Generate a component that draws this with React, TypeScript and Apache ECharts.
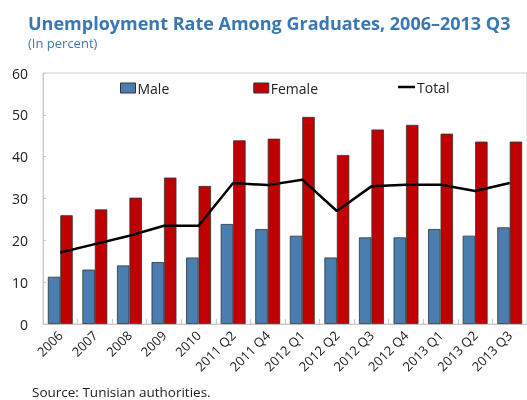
import React, { useEffect, useRef } from "react";
import * as echarts from "echarts";

const categories = ["2006", "2007", "2008", "2009", "2010", "2011 Q2", "2011 Q4", "2012 Q1", "2012 Q2", "2012 Q3", "2012 Q4", "2013 Q1", "2013 Q2", "2013 Q3"];
const male = [11.3, 13.0, 14.0, 14.8, 15.9, 23.9, 22.7, 21.1, 15.9, 20.7, 20.7, 22.7, 21.1, 23.1];
const female = [26.0, 27.4, 30.2, 35.0, 33.0, 43.9, 44.3, 49.5, 40.4, 46.5, 47.6, 45.5, 43.6, 43.6];
const total = [17.1, 19.1, 21.1, 23.5, 23.5, 33.7, 33.2, 34.5, 27.0, 32.9, 33.3, 33.3, 31.8, 33.7];

const FONT = "'Open Sans', 'Noto Sans', sans-serif";
const BLUE_TITLE = "#3b78b1";

export default function App() {
  const ref = useRef<HTMLDivElement>(null);
  useEffect(() => {
    if (!ref.current) return;
    const chart = echarts.init(ref.current, undefined, { renderer: "svg" });
    const legendText = { fontFamily: FONT, fontSize: 14, color: "#222", padding: [0, 0, 0, -3] };
    chart.setOption({
      animation: false,
      textStyle: { fontFamily: FONT },
      title: [
        {
          text: "Unemployment Rate Among Graduates, 2006–2013 Q3",
          left: 23,
          top: 9,
          padding: 5,
          textStyle: { fontFamily: FONT, fontSize: 18, lineHeight: 17, fontWeight: "bold", color: BLUE_TITLE },
        },
        {
          text: "(In percent)",
          left: 23,
          top: 31,
          padding: 5,
          textStyle: { fontFamily: FONT, fontSize: 13, lineHeight: 13, fontWeight: "normal", color: BLUE_TITLE },
        },
      ],
      graphic: [
        {
          type: "text",
          left: 32,
          top: 385,
          style: { text: "Source: Tunisian authorities.", font: `13.5px ${FONT}`, fill: "#222" },
        },
      ],
      legend: [
        {
          left: 115,
          top: 76,
          itemWidth: 15,
          itemHeight: 10,
          itemGap: 84,
          icon: "rect",
          textStyle: legendText,
          data: [
            { name: "Male", itemStyle: { borderColor: "#333", borderWidth: 1 } },
            { name: "Female", itemStyle: { borderColor: "#333", borderWidth: 1 } },
          ],
        },
        {
          left: 393,
          top: 75,
          itemWidth: 17,
          itemHeight: 2.5,
          icon: "rect",
          textStyle: legendText,
          data: [{ name: "Total" }],
        },
      ],
      grid: {
        left: 43,
        right: -2,
        top: 73,
        bottom: 76,
        show: true,
        borderColor: "#d0d0d0",
        borderWidth: 1,
      },
      xAxis: {
        type: "category",
        data: categories,
        axisLine: { lineStyle: { color: "#c8c8c8", width: 1 } },
        axisTick: { show: true, inside: true, length: 5, interval: 0, lineStyle: { color: "#c8c8c8" } },
        axisLabel: { interval: 0, rotate: 45, fontSize: 13, color: "#222", margin: 9, fontFamily: FONT },
      },
      yAxis: {
        type: "value",
        min: 0,
        max: 60,
        interval: 10,
        axisLine: { show: true, lineStyle: { color: "#c8c8c8", width: 1 } },
        axisTick: { show: true, inside: true, length: 3, lineStyle: { color: "#c8c8c8" } },
        splitLine: { show: false },
        axisLabel: { fontSize: 14, color: "#222", margin: 15, fontFamily: FONT },
      },
      series: [
        {
          name: "Male",
          type: "bar",
          data: male,
          barGap: "0%",
          barCategoryGap: "28%",
          itemStyle: { color: "#4a7eb0", borderColor: "#333", borderWidth: 0.8 },
        },
        {
          name: "Female",
          type: "bar",
          data: female,
          itemStyle: { color: "#c00000", borderColor: "#333", borderWidth: 0.8 },
        },
        {
          name: "Total",
          type: "line",
          data: total,
          symbol: "none",
          z: 5,
          lineStyle: { color: "#000", width: 2.5 },
          itemStyle: { color: "#000" },
        },
      ],
    });
    return () => chart.dispose();
  }, []);
  return <div ref={ref} style={{ position: "fixed", left: 0, top: 0, width: 527, height: 400 }} />;
}
